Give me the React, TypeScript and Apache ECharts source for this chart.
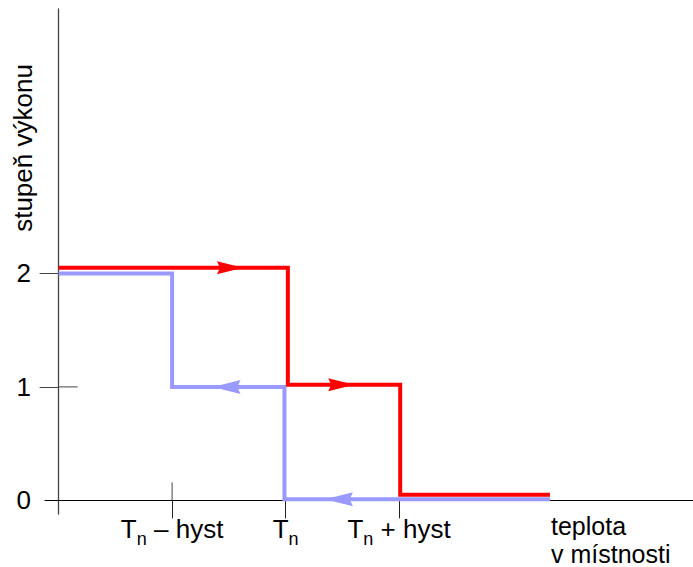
import React, { useEffect, useRef } from "react";
import * as echarts from "echarts";

// ---- data (axis units: 1 = one step of temperature / power) ----
const xTickValues = [1, 2, 3];
const xLabelSuffix = [" – hyst", "", " + hyst"];
const yTickValues = [0, 1, 2];
const yTickMarkValues = [1, 2];
const xInnerTicks = [1];
const yInnerTicks = [1];

// rising temperature (red): power steps down at Tn and Tn + hyst
const heatingUpX = [0, 2.02, 2.02, 3.01, 3.01, 4.33];
const heatingUpY = [2.05, 2.05, 1.02, 1.02, 0.05, 0.05];
// falling temperature (blue): power steps up at Tn and Tn - hyst
const coolingDownX = [0, 1, 1, 1.99, 1.99, 4.33];
const coolingDownY = [2, 2, 1, 1, 0.01, 0.01];

const redArrowX = [1.51, 2.49];
const redArrowY = [2.05, 1.02];
const blueArrowX = [1.48, 2.47];
const blueArrowY = [1, 0.01];

const yTitle = "stupeň výkonu";
const xTitleLines = ["teplota", "v místnosti"];

const FONT = "Liberation Sans, Arial, Helvetica, sans-serif";
const FS = 26;
const ARROW = "path://M0,0 L26,6.5 L0,13 L3,6.5 Z";

const zip = (xs: number[], ys: number[]) => xs.map((x, i) => [x, ys[i]]);

export default function App() {
  const ref = useRef<HTMLDivElement>(null);
  useEffect(() => {
    if (!ref.current) return;
    const chart = echarts.init(ref.current, undefined, { renderer: "svg" });
    const innerTickData = [
      ...xInnerTicks.map((v) => [v, 0, 0]),
      ...yInnerTicks.map((v) => [0, v, 1]),
    ];
    chart.setOption({
      animation: false,
      backgroundColor: "#ffffff",
      grid: { left: 45, right: 0, top: 9, bottom: 53, containLabel: false, outerBoundsMode: "none" },
      xAxis: {
        type: "value",
        min: -0.12,
        max: 5.59,
        splitLine: { show: false },
        axisLine: { show: true, onZero: true, lineStyle: { color: "#000", width: 1 } },
        axisTick: { show: true, customValues: xTickValues, length: 18, lineStyle: { color: "#222", width: 1 } },
        axisLabel: {
          show: true,
          customValues: xTickValues,
          margin: 2,
          formatter: (v: number) => {
            const i = xTickValues.indexOf(Math.round(v));
            if (i < 0) return "";
            return "{a|T}{b|n}" + (xLabelSuffix[i] ? "{a|" + xLabelSuffix[i] + "}" : "");
          },
          rich: {
            a: { fontFamily: FONT, fontSize: FS, lineHeight: 26, verticalAlign: "top", color: "#000" },
            b: { fontFamily: FONT, fontSize: 18, lineHeight: 32, verticalAlign: "bottom", color: "#000" },
          },
        },
      },
      yAxis: {
        type: "value",
        min: -0.12,
        max: 4.33,
        splitLine: { show: false },
        axisLine: { show: true, onZero: true, lineStyle: { color: "#444", width: 1.3 } },
        axisTick: { show: true, customValues: yTickMarkValues, length: 19, lineStyle: { color: "#444", width: 1 } },
        axisLabel: {
          show: true,
          customValues: yTickValues,
          margin: 14,
          fontFamily: FONT,
          fontSize: FS,
          color: "#000",
          formatter: (v: number) => String(Math.round(v)),
        },
      },
      graphic: [
        {
          type: "text",
          x: 23,
          y: 148,
          rotation: Math.PI / 2,
          style: { text: yTitle, font: FS + "px " + FONT, fill: "#000", align: "center", verticalAlign: "middle" },
        },
        {
          type: "text",
          x: 551,
          y: 526,
          style: { text: xTitleLines[0], font: "25px " + FONT, fill: "#000", align: "left", verticalAlign: "middle" },
        },
        {
          type: "text",
          x: 551,
          y: 553.8,
          style: { text: xTitleLines[1], font: "25px " + FONT, fill: "#000", align: "left", verticalAlign: "middle" },
        },
      ],
      series: [
        {
          type: "custom",
          data: innerTickData,
          silent: true,
          renderItem: (params: any, api: any) => {
            const p = api.coord([api.value(0), api.value(1)]);
            const isY = api.value(2) === 1;
            return {
              type: "line",
              shape: isY
                ? { x1: p[0], y1: p[1], x2: p[0] + 19, y2: p[1] }
                : { x1: p[0], y1: p[1], x2: p[0], y2: p[1] - 18 },
              style: { stroke: "#444", lineWidth: 1 },
            };
          },
          z: 1,
        },
        {
          type: "line",
          data: zip(coolingDownX, coolingDownY),
          symbol: "none",
          lineStyle: { color: "#9999ff", width: 4, join: "miter", cap: "butt" },
          z: 2,
        },
        {
          type: "line",
          data: zip(heatingUpX, heatingUpY),
          symbol: "none",
          lineStyle: { color: "#ff0000", width: 4, join: "miter", cap: "butt" },
          z: 3,
        },
        {
          type: "scatter",
          data: zip(blueArrowX, blueArrowY),
          symbol: ARROW,
          symbolSize: [28, 14],
          symbolRotate: 180,
          itemStyle: { color: "#9999ff", opacity: 1 },
          z: 4,
        },
        {
          type: "scatter",
          data: zip(redArrowX, redArrowY),
          symbol: ARROW,
          symbolSize: [26, 13],
          itemStyle: { color: "#ff0000", opacity: 1 },
          z: 5,
        },
      ],
    });
    return () => chart.dispose();
  }, []);
  return <div ref={ref} style={{ position: "absolute", left: 0, top: 0, width: 693, height: 567 }} />;
}
